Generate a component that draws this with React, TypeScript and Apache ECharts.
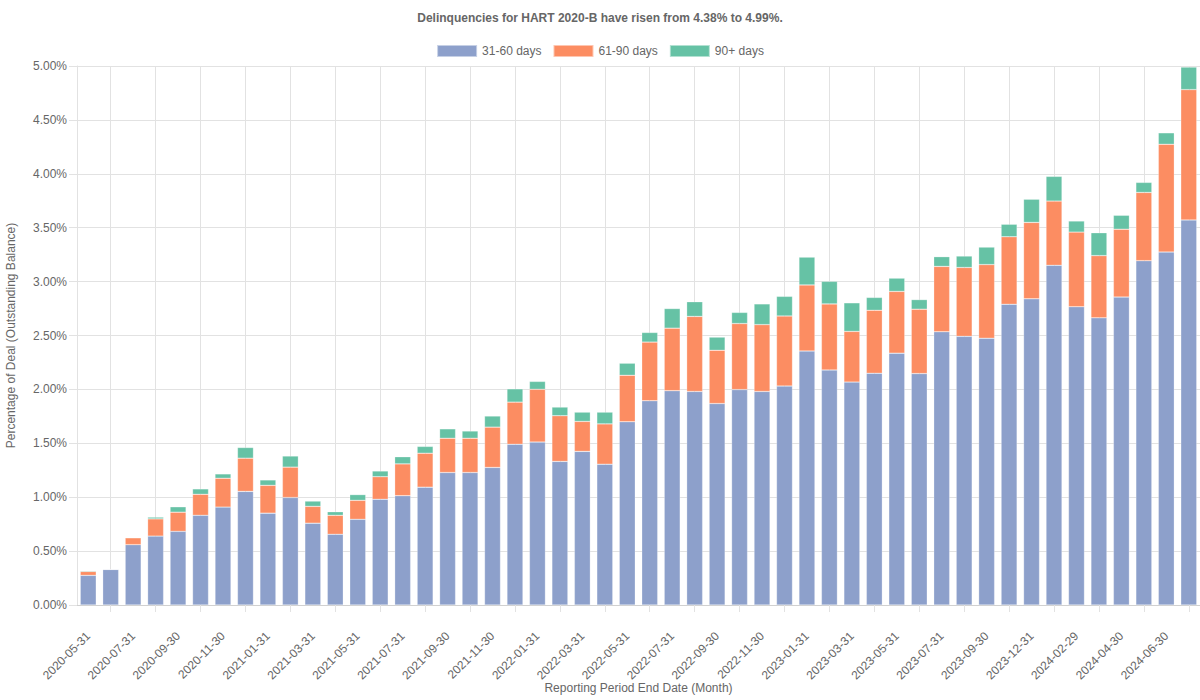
import React, { useEffect, useRef } from "react";
import * as echarts from "echarts";

const categories = [
  "2020-05-31", "2020-06-30", "2020-07-31", "2020-08-31", "2020-09-30", "2020-10-31",
  "2020-11-30", "2020-12-31", "2021-01-31", "2021-02-28", "2021-03-31", "2021-04-30",
  "2021-05-31", "2021-06-30", "2021-07-31", "2021-08-31", "2021-09-30", "2021-10-31",
  "2021-11-30", "2021-12-31", "2022-01-31", "2022-02-28", "2022-03-31", "2022-04-30",
  "2022-05-31", "2022-06-30", "2022-07-31", "2022-08-31", "2022-09-30", "2022-10-31",
  "2022-11-30", "2022-12-31", "2023-01-31", "2023-02-28", "2023-03-31", "2023-04-30",
  "2023-05-31", "2023-06-30", "2023-07-31", "2023-08-31", "2023-09-30", "2023-10-31",
  "2023-12-31", "2024-01-31", "2024-02-29", "2024-03-31", "2024-04-30", "2024-05-31",
  "2024-06-30", "2024-07-31",
];

const days31to60 = [
  0.275, 0.330, 0.560, 0.639, 0.683, 0.832, 0.908, 1.054, 0.852, 0.997,
  0.759, 0.656, 0.795, 0.981, 1.014, 1.093, 1.229, 1.229, 1.276, 1.491,
  1.511, 1.332, 1.425, 1.306, 1.700, 1.895, 1.988, 1.981, 1.869, 1.998,
  1.981, 2.031, 2.356, 2.180, 2.068, 2.150, 2.336, 2.147, 2.535, 2.492,
  2.475, 2.790, 2.840, 3.151, 2.767, 2.664, 2.856, 3.194, 3.274, 3.572,
];

const days61to90 = [
  0.036, 0.000, 0.063, 0.160, 0.178, 0.195, 0.268, 0.308, 0.258, 0.282,
  0.156, 0.176, 0.176, 0.209, 0.295, 0.315, 0.318, 0.318, 0.374, 0.391,
  0.490, 0.424, 0.278, 0.374, 0.431, 0.544, 0.580, 0.696, 0.494, 0.613,
  0.620, 0.650, 0.613, 0.613, 0.470, 0.584, 0.573, 0.597, 0.606, 0.639,
  0.683, 0.626, 0.709, 0.596, 0.692, 0.577, 0.630, 0.633, 1.000, 1.209,
];

const days90plus = [
  0.007, 0.000, 0.003, 0.016, 0.050, 0.050, 0.040, 0.099, 0.050, 0.103,
  0.049, 0.033, 0.053, 0.053, 0.066, 0.063, 0.087, 0.067, 0.103, 0.123,
  0.073, 0.080, 0.086, 0.109, 0.112, 0.089, 0.182, 0.136, 0.122, 0.103,
  0.192, 0.182, 0.258, 0.209, 0.265, 0.119, 0.123, 0.089, 0.090, 0.106,
  0.162, 0.116, 0.215, 0.229, 0.103, 0.212, 0.129, 0.093, 0.106, 0.209,
];

const seriesNames = ["31-60 days", "61-90 days", "90+ days"];
const seriesColors = ["#8da0cb", "#fc8d62", "#66c2a5"];
const titleText = "Delinquencies for HART 2020-B have risen from 4.38% to 4.99%.";

const FONT = "'Liberation Sans', Arial, Helvetica, sans-serif";

export default function App() {
  const ref = useRef<HTMLDivElement>(null);
  useEffect(() => {
    if (!ref.current) return;
    const chart = echarts.init(ref.current, null, { renderer: "svg" });
    const seriesData = [days31to60, days61to90, days90plus];
    chart.setOption({
      animation: false,
      textStyle: { fontFamily: FONT },
      title: {
        text: titleText,
        left: "center",
        top: 7,
        textStyle: { fontSize: 12, fontWeight: "bold", color: "#666", fontFamily: FONT },
      },
      legend: {
        top: 39,
        left: "center",
        itemWidth: 40,
        itemHeight: 12,
        itemGap: 11,
        icon: "rect",
        textStyle: { fontSize: 12, color: "#666", fontFamily: FONT },
        data: seriesNames,
      },
      grid: { left: 77, right: 0, top: 66, bottom: 95, containLabel: false, outerBoundsMode: "none" },
      xAxis: {
        type: "category",
        data: categories,
        boundaryGap: true,
        name: "Reporting Period End Date (Month)",
        nameLocation: "middle",
        nameGap: 77,
        nameMoveOverlap: false,
        nameTextStyle: { fontSize: 12, color: "#666", fontFamily: FONT },
        axisLine: { show: true, lineStyle: { color: "#d0d0d0" } },
        axisTick: {
          show: true,
          alignWithLabel: true,
          length: 7,
          interval: (i: number) => i % 2 === 1,
          lineStyle: { color: "#e2e2e2" },
        },
        splitLine: {
          show: true,
          alignWithLabel: true,
          interval: (i: number) => i % 2 === 1,
          lineStyle: { color: "#e2e2e2" },
        },
        axisLabel: {
          rotate: 45,
          fontSize: 12,
          color: "#666",
          margin: 29,
          padding: [40, 0, 0, 0],
          fontFamily: FONT,
          interval: (i: number) => i % 2 === 0,
        },
      },
      yAxis: {
        type: "value",
        min: 0,
        max: 5,
        interval: 0.5,
        name: "Percentage of Deal (Outstanding Balance)",
        nameLocation: "middle",
        nameGap: 60,
        nameTextStyle: { fontSize: 12, color: "#666", fontFamily: FONT },
        axisLine: { show: true, lineStyle: { color: "#e2e2e2" } },
        axisTick: { show: true, length: 8, lineStyle: { color: "#e2e2e2" } },
        splitLine: { show: true, lineStyle: { color: "#e2e2e2" } },
        axisLabel: {
          fontSize: 12,
          color: "#666",
          margin: 10,
          fontFamily: FONT,
          formatter: (v: number) => v.toFixed(2) + "%",
        },
      },
      series: seriesNames.map((name, k) => ({
        name,
        type: "bar",
        stack: "total",
        data: seriesData[k],
        barCategoryGap: "29%",
        itemStyle: { color: seriesColors[k], borderColor: "rgba(255,255,255,0.5)", borderWidth: 0.5 },
      })),
    });
    return () => chart.dispose();
  }, []);
  return <div ref={ref} style={{ width: 1200, height: 700, position: "absolute", left: 0, top: 0 }} />;
}
